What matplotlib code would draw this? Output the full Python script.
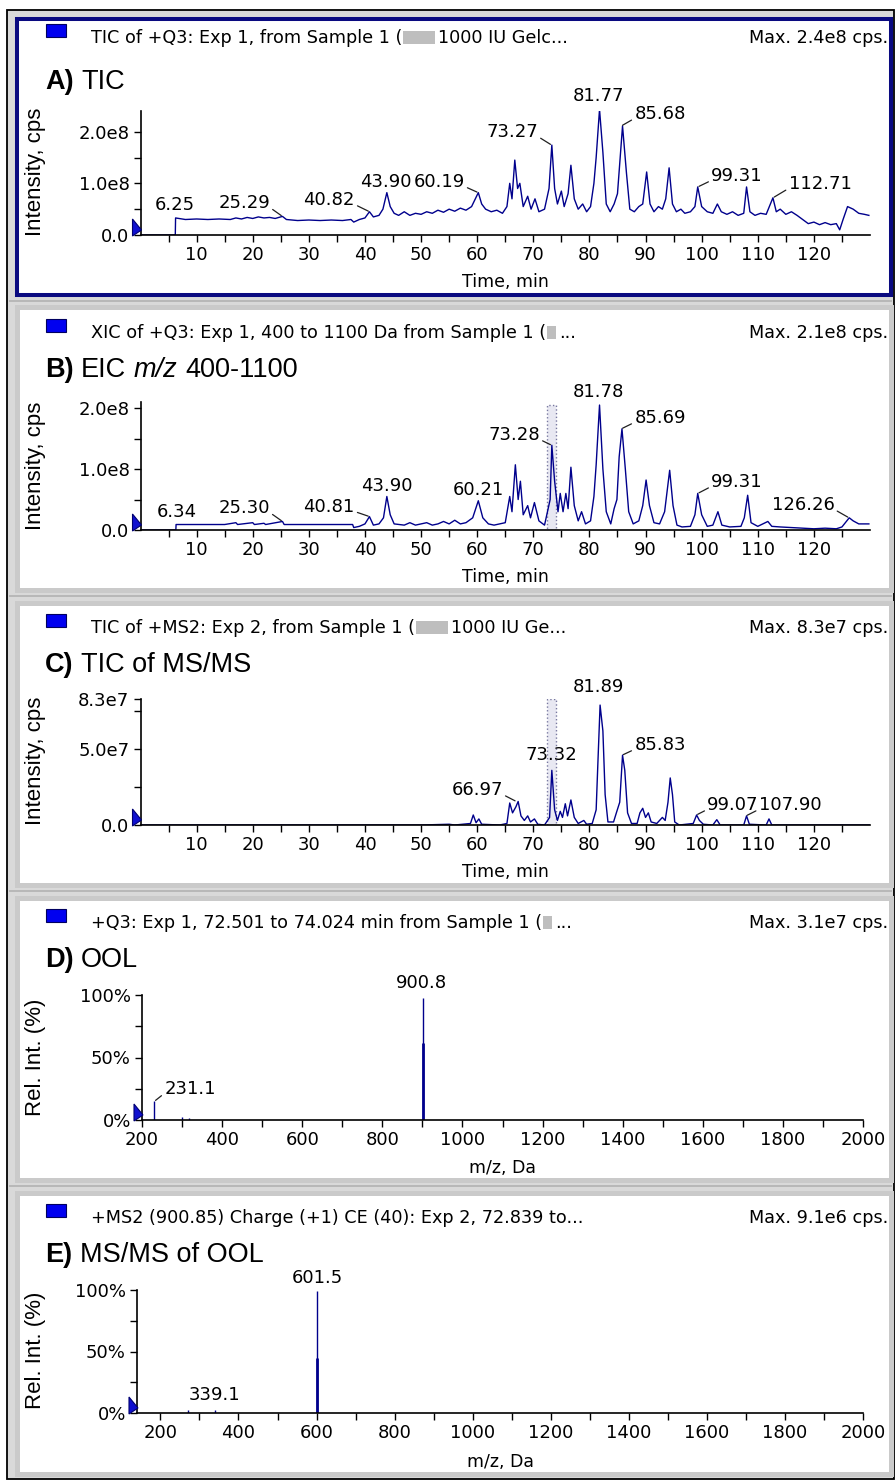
import numpy as np
import matplotlib
matplotlib.use("Agg")
import matplotlib.pyplot as plt
from matplotlib.patches import Rectangle, Polygon

# ---------------- data ----------------
# Panel A: TIC of +Q3 (intensity, 1e8 cps)
a_time = [0, 6.2, 6.25, 8, 10, 12, 14, 16, 17, 18, 19, 20, 21, 22, 23, 24, 25.3, 26, 28, 30, 32, 34, 36,
          37.5, 38, 39, 40, 40.8, 41.5, 42.5, 43.2, 43.9, 44.5, 45.2, 46, 47, 48, 49, 50, 51, 52, 53, 54,
          55, 56, 57, 58, 59, 60.2, 60.8, 61.5, 62.5, 63.5, 64.5, 65.3, 65.8, 66.2, 66.7, 67.2, 67.6, 68.2,
          69, 69.6, 70.3, 71, 72, 72.8, 73.3, 73.8, 74.3, 75, 75.5, 76.2, 76.7, 77.3, 78, 78.8, 79.5, 80.2,
          80.8, 81.2, 81.8, 82.4, 83, 83.7, 84.4, 85, 85.9, 86.6, 87.2, 88, 88.8, 89.5, 90.2, 90.8, 91.5,
          92.3, 93, 93.6, 94.2, 94.8, 95.5, 96.3, 97, 98, 98.8, 99.3, 100, 101, 102, 102.8, 103.5, 104.5,
          105.5, 106.5, 107.5, 108, 108.6, 109.5, 110.5, 111.5, 112.7, 113.3, 114, 115, 116, 117, 118, 119,
          120, 121, 122, 123, 124, 124.6, 125.2, 126, 127, 128, 129, 129.8]
a_int = [0, 0, 0.33, 0.30, 0.31, 0.30, 0.31, 0.30, 0.33, 0.31, 0.34, 0.32, 0.35, 0.33, 0.34, 0.32, 0.36,
         0.30, 0.28, 0.29, 0.28, 0.29, 0.28, 0.30, 0.25, 0.30, 0.33, 0.45, 0.35, 0.38, 0.50, 0.82, 0.55,
         0.42, 0.38, 0.45, 0.38, 0.42, 0.40, 0.45, 0.42, 0.48, 0.44, 0.50, 0.46, 0.52, 0.48, 0.55, 0.82,
         0.60, 0.50, 0.45, 0.48, 0.42, 0.55, 1.00, 0.70, 1.45, 0.90, 1.00, 0.55, 0.75, 0.50, 0.70, 0.45,
         0.50, 0.90, 1.74, 0.90, 0.60, 0.85, 0.55, 0.80, 1.35, 0.70, 0.50, 0.60, 0.45, 0.55, 1.00, 1.50,
         2.43, 1.60, 0.60, 0.45, 0.60, 0.80, 2.11, 1.20, 0.50, 0.45, 0.55, 0.60, 1.22, 0.60, 0.45, 0.55,
         0.50, 0.70, 1.30, 0.60, 0.45, 0.50, 0.42, 0.45, 0.55, 0.93, 0.55, 0.45, 0.42, 0.60, 0.45, 0.40,
         0.45, 0.38, 0.42, 0.93, 0.45, 0.38, 0.42, 0.40, 0.72, 0.45, 0.50, 0.40, 0.45, 0.38, 0.30, 0.22,
         0.25, 0.20, 0.24, 0.20, 0.22, 0.10, 0.30, 0.55, 0.50, 0.42, 0.40, 0.38]
a_labels = ["6.25", "25.29", "40.82", "43.90", "60.19", "73.27", "81.77", "85.68", "99.31", "112.71"]

# Panel B: XIC m/z 400-1100 (intensity, 1e8 cps)
b_time = [0, 6.3, 6.34, 10, 15, 17, 17.3, 20, 20.3, 22, 22.3, 25.3, 25.6, 30, 35, 37.8, 38, 39, 40, 40.8,
          41.5, 42.5, 43.3, 43.9, 44.5, 45.2, 47, 48, 49, 50, 51, 52, 53, 54, 55, 56, 57, 58, 59.2, 60.2,
          61, 62, 63, 64, 65, 65.8, 66.2, 66.8, 67.3, 67.7, 68.2, 69, 69.5, 70.2, 71, 72, 73.0, 73.3, 73.8,
          74.4, 74.8, 75.3, 75.8, 76.2, 76.7, 77.3, 78, 78.6, 79.3, 80.2, 80.8, 81.2, 81.8, 82.4, 83, 83.8,
          84.4, 84.9, 85.3, 85.8, 86.4, 87, 87.8, 88.8, 89.5, 90.1, 90.7, 91.5, 92.5, 93.4, 94.3, 94.9,
          95.6, 96.5, 98, 98.8, 99.3, 100, 101, 102, 102.9, 103.6, 105, 107, 107.6, 108.2, 108.8, 110,
          111.8, 112.5, 114, 116, 118, 120, 122, 124, 125, 126.3, 127, 128, 129.8]
b_int = [0, 0, 0.09, 0.09, 0.09, 0.12, 0.09, 0.12, 0.09, 0.11, 0.09, 0.14, 0.09, 0.09, 0.09, 0.09, 0.04,
         0.06, 0.10, 0.22, 0.08, 0.10, 0.20, 0.55, 0.25, 0.10, 0.08, 0.12, 0.08, 0.10, 0.12, 0.08, 0.10,
         0.14, 0.10, 0.16, 0.10, 0.12, 0.20, 0.48, 0.20, 0.10, 0.08, 0.10, 0.12, 0.55, 0.30, 1.07, 0.50,
         0.80, 0.25, 0.40, 0.20, 0.45, 0.15, 0.08, 0.50, 1.39, 0.80, 0.30, 0.60, 0.30, 0.60, 0.35, 1.03,
         0.40, 0.15, 0.30, 0.10, 0.15, 0.55, 1.07, 2.05, 1.00, 0.30, 0.10, 0.35, 0.50, 1.20, 1.66, 1.00,
         0.30, 0.10, 0.15, 0.40, 0.82, 0.40, 0.12, 0.10, 0.30, 0.98, 0.40, 0.08, 0.05, 0.06, 0.25, 0.60,
         0.25, 0.06, 0.08, 0.30, 0.08, 0.05, 0.06, 0.20, 0.57, 0.12, 0.06, 0.14, 0.06, 0.05, 0.04, 0.03,
         0.02, 0.03, 0.02, 0.05, 0.20, 0.15, 0.10, 0.10]
b_labels = ["6.34", "25.30", "40.81", "43.90", "60.21", "73.28", "81.78", "85.69", "99.31", "126.26"]

# Panel C: TIC of +MS2 (intensity, 1e7 cps)
c_time = [0, 50, 55, 56, 58.8, 59.3, 59.8, 60.3, 60.8, 64, 65.3, 65.8, 66.3, 66.9, 67.3, 67.8, 68.4, 69,
          69.5, 70.2, 70.8, 72, 72.9, 73.3, 73.8, 74.3, 74.8, 75.2, 75.7, 76.1, 76.7, 77.3, 78, 79, 79.5,
          80.5, 81.2, 81.5, 81.9, 82.4, 82.8, 83.3, 84.3, 84.8, 85.4, 85.9, 86.3, 86.8, 87.5, 88.5, 89,
          89.5, 90, 90.5, 91, 92, 93, 93.5, 94, 94.4, 94.8, 95.2, 96, 98.5, 99.1, 99.6, 100.3, 102, 102.7,
          103.3, 107.5, 108, 108.5, 111.5, 112, 112.5, 130]
c_int = [0, 0, 0.05, 0, 0.1, 0.66, 0.15, 0.4, 0.05, 0, 0.1, 1.45, 0.8, 1.2, 1.55, 0.6, 0.3, 0.6, 0.2, 0.4,
         0.05, 0, 0.5, 3.6, 1.0, 0.3, 0.9, 0.5, 1.4, 0.6, 1.65, 0.5, 0.1, 0.3, 0.05, 0.1, 1.0, 4.0, 7.9,
         6.2, 2.0, 0.2, 0.2, 0.8, 1.5, 4.6, 3.6, 0.8, 0.1, 0.1, 0.8, 1.1, 0.5, 0.8, 0.2, 0.1, 0.5, 0.3,
         1.5, 3.1, 2.0, 0.2, 0, 0.1, 0.66, 0.3, 0.05, 0, 0.35, 0, 0, 0.6, 0.05, 0, 0.4, 0, 0]
c_labels = ["66.97", "73.32", "81.89", "85.83", "99.07", "107.90"]

# Panel D: +Q3 spectrum 72.501-74.024 min (relative intensity, %)
d_mz = [231.1, 300.2, 317.5, 900.8, 901.6]
d_int = [15, 2.5, 2, 98, 62]
d_labels = ["231.1", "900.8"]

# Panel E: MS/MS of 900.85 (relative intensity, %)
e_mz = [269.5, 339.1, 601.5, 602.3]
e_int = [2.5, 2.7, 99, 45]
e_labels = ["339.1", "601.5"]

sel_start, sel_end = 72.501, 74.024

titles = [
    ("TIC of +Q3: Exp 1, from Sample 1 (", "1000 IU Gelc...", "Max. 2.4e8 cps."),
    ("XIC of +Q3: Exp 1, 400 to 1100 Da from Sample 1 (", "...", "Max. 2.1e8 cps."),
    ("TIC of +MS2: Exp 2, from Sample 1 (", "1000 IU Ge...", "Max. 8.3e7 cps."),
    ("+Q3: Exp 1, 72.501 to 74.024 min from Sample 1 (", "...", "Max. 3.1e7 cps."),
    ("+MS2 (900.85) Charge (+1) CE (40): Exp 2, 72.839 to...", None, "Max. 9.1e6 cps."),
]

# ---------------- figure ----------------
W, H = 896, 1480
fig = plt.figure(figsize=(W / 100, H / 100), dpi=100)
fig.patch.set_facecolor("white")
renderer = fig.canvas.get_renderer()

TRACE = "#00008C"
NUM_FONT = "DejaVu Sans"
HEAD_FONT = "Liberation Sans"
TITLE_SIZE = 12.7


def fpos(x, y):
    return (x / W, 1 - y / H)


def frect(x0, y0, x1, y1, **kw):
    r = Rectangle(fpos(x0, y1), (x1 - x0) / W, (y1 - y0) / H, transform=fig.transFigure, **kw)
    fig.patches.append(r)
    return r


def ftext(x, y, s, **kw):
    return fig.text(*fpos(x, y), s, **kw)


# background / frames
frect(7, 10, 894, 1479, facecolor="#D9D9D9", edgecolor="black", lw=1.3, zorder=0)
for yy in [301, 596, 891, 1186]:
    frect(9, yy - 1, 892, yy + 1, facecolor="#B8B8B8", edgecolor="none", zorder=0.5)
frect(17, 19, 891, 295, facecolor="white", edgecolor="#0A0A80", lw=2.9, zorder=1)
for top, bot in [(307.5, 590), (602.5, 885), (897.5, 1180), (1192.5, 1474)]:
    frect(17, top, 891, bot, facecolor="white", edgecolor="#CACACA", lw=3.6, zorder=1)

panel_offsets = [0, 295, 590, 885, 1180]

# panel header rows
for i, (t1, t2, tmax) in enumerate(titles):
    off = panel_offsets[i]
    ty = 38 + off
    frect(46, ty - 14, 66, ty - 1, facecolor="#0000F0", edgecolor="#000060", lw=0.8, zorder=3)
    tt = ftext(91, ty, t1, fontsize=TITLE_SIZE, family=NUM_FONT, va="center", ha="left", zorder=3)
    bb = tt.get_window_extent(renderer)
    x = bb.x1 + 1
    if t2 is not None:
        bw = 32 if len(t2) > 3 else 9
        frect(x, ty - 7, x + bw, ty + 6, facecolor="#BEBEBE", edgecolor="none", zorder=3)
        ftext(x + bw + 3, ty, t2, fontsize=TITLE_SIZE, family=NUM_FONT, va="center", ha="left", zorder=3)
    ftext(888, ty, tmax, fontsize=TITLE_SIZE, family=NUM_FONT, va="center", ha="right", zorder=3)


def rich(x, y, pieces, size=19.5):
    cur = x
    for s, kw in pieces:
        if s == " ":
            cur += size * 1.39 * 0.28
            continue
        t = ftext(cur, y, s, fontsize=size, family=HEAD_FONT, va="center", ha="left", zorder=3, **kw)
        cur += t.get_window_extent(renderer).width


rich(45, 82, [("A)", dict(weight="bold")), (" ", {}), ("TIC", {})])
rich(45, 370, [("B)", dict(weight="bold")), (" ", {}), ("EIC", {}), (" ", {}),
               ("m/z", dict(style="italic")), (" ", {}), ("400-1100", {})])
rich(45, 665, [("C)", dict(weight="bold")), (" ", {}), ("TIC of MS/MS", {})])
rich(45, 960, [("D)", dict(weight="bold")), (" ", {}), ("OOL", {})])
rich(45, 1255, [("E)", dict(weight="bold")), (" ", {}), ("MS/MS of OOL", {})])

# y axis titles
for yc, s in [(172, "Intensity, cps"), (466, "Intensity, cps"), (761, "Intensity, cps"),
              (1057, "Rel. Int. (%)"), (1350, "Rel. Int. (%)")]:
    ftext(35, yc, s, rotation=90, fontsize=16, family=HEAD_FONT, va="center", ha="center", zorder=3)


def make_axes(x0, x1, ytop, ybot):
    ax = fig.add_axes([x0 / W, 1 - ybot / H, (x1 - x0) / W, (ybot - ytop) / H])
    ax.patch.set_alpha(0)
    for s in ["top", "right"]:
        ax.spines[s].set_visible(False)
    for s in ["left", "bottom"]:
        ax.spines[s].set_linewidth(1.2)
    ax.tick_params(which="both", direction="out", length=5, width=1, labelsize=13, pad=3)
    ax.set_zorder(4)
    return ax


def origin_marker(ax):
    x0, y0 = ax.transAxes.transform((0, 0))
    px, py = x0, H - y0
    poly = Polygon([fpos(px - 8, py - 16), fpos(px + 1, py - 5), fpos(px - 8, py + 1)],
                   closed=True, transform=fig.transFigure, facecolor="#1010D0",
                   edgecolor="#000070", lw=0.8, zorder=5)
    fig.patches.append(poly)


def xlabel(ax, text, ypx):
    x0, y0 = ax.transAxes.transform((0, 0))
    x1, y1 = ax.transAxes.transform((1, 1))
    ftext((x0 + x1) / 2, ypx, text, fontsize=12.5, family=NUM_FONT, va="center", ha="center", zorder=3)


def peak_height(times, vals, t, win=0.8):
    t_arr = np.asarray(times)
    v_arr = np.asarray(vals)
    m = np.abs(t_arr - t) <= win
    return v_arr[m].max() if m.any() else np.interp(t, t_arr, v_arr)


def label_peaks(ax, times, vals, labels, style):
    for lab in labels:
        xp, yp, side = style[lab]
        t = float(lab)
        kw = dict(fontsize=13, family=NUM_FONT, ha="center", va="center",
                  textcoords="figure fraction", annotation_clip=False, zorder=6)
        if side is None:
            ax.annotate(lab, xy=(t, 0), xytext=fpos(xp, yp), **kw)
        else:
            rel = (1.0, 0.25) if side == "L" else (0.0, 0.25)
            ax.annotate(lab, xy=(t, peak_height(times, vals, t)), xytext=fpos(xp, yp),
                        arrowprops=dict(arrowstyle="-", lw=0.9, color="#202020", shrinkA=0, shrinkB=1,
                                        relpos=rel), **kw)


def time_axis(ax):
    ax.set_xlim(0, 130)
    ax.set_xticks(np.arange(10, 121, 10))
    ax.set_xticks(np.arange(5, 130, 5), minor=True)


# ---- Panel A
axA = make_axes(140.5, 870, 111, 235)
axA.plot(a_time, a_int, color=TRACE, lw=1.0)
time_axis(axA)
axA.set_ylim(0, 2.4)
axA.set_yticks([0, 1, 2], ["0.0", "1.0e8", "2.0e8"])
axA.set_yticks([0.5, 1.5], minor=True)
label_peaks(axA, a_time, a_int, a_labels, {
    "6.25": (175, 205, None), "25.29": (244, 203, "L"), "40.82": (329, 200, "L"),
    "43.90": (386, 182, None), "60.19": (439, 182, "L"), "73.27": (512, 132, "L"),
    "81.77": (598, 96, None), "85.68": (660, 114, "R"), "99.31": (737, 176, "R"),
    "112.71": (820, 184, "R")})
xlabel(axA, "Time, min", 282)

# ---- Panel B
axB = make_axes(140.5, 870, 402, 530)
axB.add_patch(Rectangle((sel_start, 0), sel_end - sel_start, 2.05, facecolor="#E8E8F2",
                        edgecolor="#7878A0", ls=":", lw=1.0, zorder=1))
axB.plot(b_time, b_int, color=TRACE, lw=1.0, zorder=2)
time_axis(axB)
axB.set_ylim(0, 2.1)
axB.set_yticks([0, 1, 2], ["0.0", "1.0e8", "2.0e8"])
axB.set_yticks([0.5, 1.5], minor=True)
label_peaks(axB, b_time, b_int, b_labels, {
    "6.34": (177, 512, None), "25.30": (244, 508, "L"), "40.81": (329, 507, "L"),
    "43.90": (387, 486, None), "60.21": (478, 490, None), "73.28": (514, 435, "L"),
    "81.78": (598, 392, None), "85.69": (660, 418, "R"), "99.31": (737, 482, "R"),
    "126.26": (803, 505, "L")})
xlabel(axB, "Time, min", 577)

# ---- Panel C
axC = make_axes(140.5, 870, 699, 825)
axC.add_patch(Rectangle((sel_start, 0), sel_end - sel_start, 8.3, facecolor="#E8E8F2",
                        edgecolor="#7878A0", ls=":", lw=1.0, zorder=1))
axC.plot(c_time, c_int, color=TRACE, lw=1.0, zorder=2)
time_axis(axC)
axC.set_ylim(0, 8.3)
axC.set_yticks([0, 5, 8.3], ["0.0", "5.0e7", "8.3e7"])
axC.set_yticks([2.5, 7.5], minor=True)
label_peaks(axC, c_time, c_int, c_labels, {
    "66.97": (477, 790, "L"), "73.32": (551, 755, None), "81.89": (598, 687, None),
    "85.83": (660, 745, "R"), "99.07": (733, 805, "R"), "107.90": (790, 805, "R")})
xlabel(axC, "Time, min", 872)

# ---- Panel D
axD = make_axes(142, 863, 995, 1120)
axD.vlines(d_mz[:-1], 0, d_int[:-1], color=TRACE, lw=1.0)
axD.vlines(d_mz[-1:], 0, d_int[-1:], color=TRACE, lw=2.0)
axD.set_xlim(200, 2000)
axD.set_xticks(np.arange(200, 2001, 200))
axD.set_xticks(np.arange(300, 2000, 200), minor=True)
axD.set_ylim(0, 100)
axD.set_yticks([0, 50, 100], ["0%", "50%", "100%"])
axD.set_yticks([25, 75], minor=True)
label_peaks(axD, d_mz, d_int, d_labels, {"231.1": (190, 1089, "R"), "900.8": (421, 983, None)})
xlabel(axD, "m/z, Da", 1168)

# ---- Panel E
axE = make_axes(137, 863, 1290, 1413)
axE.vlines(e_mz[:-1], 0, e_int[:-1], color=TRACE, lw=1.0)
axE.vlines(e_mz[-1:], 0, e_int[-1:], color=TRACE, lw=2.0)
axE.set_xlim(140, 2000)
axE.set_xticks(np.arange(200, 2001, 200))
axE.set_xticks(np.arange(300, 2000, 200), minor=True)
axE.set_ylim(0, 100)
axE.set_yticks([0, 50, 100], ["0%", "50%", "100%"])
axE.set_yticks([25, 75], minor=True)
label_peaks(axE, e_mz, e_int, e_labels, {"339.1": (214, 1395, None), "601.5": (317, 1278, None)})
xlabel(axE, "m/z, Da", 1462)

for ax in [axA, axB, axC, axD, axE]:
    for lab in ax.get_xticklabels() + ax.get_yticklabels():
        lab.set_family(NUM_FONT)
    origin_marker(ax)

fig.savefig("out.png", dpi=100)
